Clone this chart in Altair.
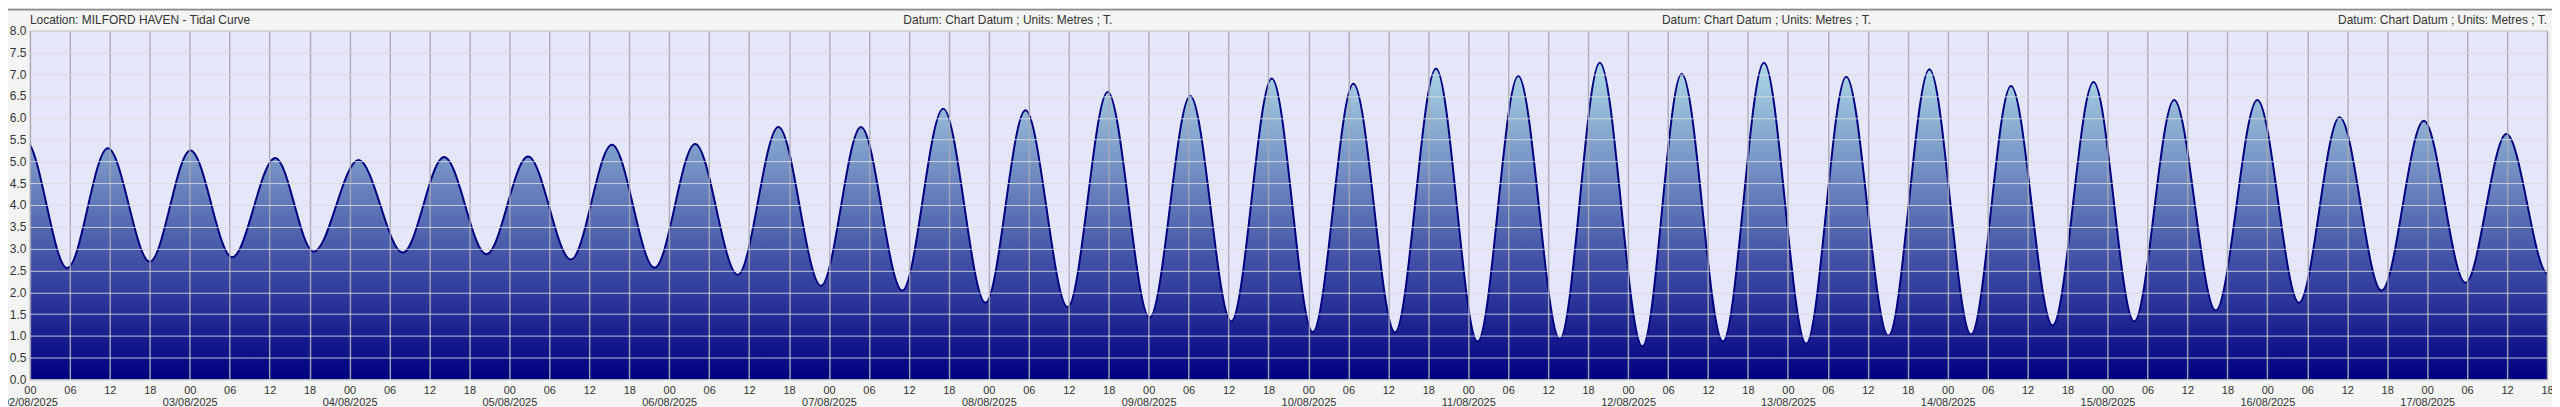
import altair as alt
import pandas as pd

# High / low water times (UTC) and heights (m)
# (first and last turning points lie just outside the visible window)
times = [
    "2025-08-01T17:12:00Z",
    "2025-08-01T23:24:00Z", "2025-08-02T05:36:00Z", "2025-08-02T11:42:00Z", "2025-08-02T18:00:00Z",
    "2025-08-03T00:06:00Z", "2025-08-03T06:21:00Z", "2025-08-03T12:51:00Z", "2025-08-03T18:36:00Z",
    "2025-08-04T01:21:00Z", "2025-08-04T08:00:00Z", "2025-08-04T14:12:00Z", "2025-08-04T20:33:00Z",
    "2025-08-05T02:48:00Z", "2025-08-05T09:15:00Z", "2025-08-05T15:24:00Z", "2025-08-05T21:48:00Z",
    "2025-08-06T03:54:00Z", "2025-08-06T10:18:00Z", "2025-08-06T16:24:00Z", "2025-08-06T22:48:00Z",
    "2025-08-07T04:48:00Z", "2025-08-07T11:00:00Z", "2025-08-07T17:09:00Z", "2025-08-07T23:30:00Z",
    "2025-08-08T05:30:00Z", "2025-08-08T11:51:00Z", "2025-08-08T17:51:00Z", "2025-08-09T00:09:00Z",
    "2025-08-09T06:15:00Z", "2025-08-09T12:24:00Z", "2025-08-09T18:30:00Z", "2025-08-10T00:39:00Z",
    "2025-08-10T06:45:00Z", "2025-08-10T13:00:00Z", "2025-08-10T19:09:00Z", "2025-08-11T01:24:00Z",
    "2025-08-11T07:30:00Z", "2025-08-11T13:45:00Z", "2025-08-11T19:45:00Z", "2025-08-12T02:09:00Z",
    "2025-08-12T08:03:00Z", "2025-08-12T14:15:00Z", "2025-08-12T20:24:00Z", "2025-08-13T02:45:00Z",
    "2025-08-13T08:45:00Z", "2025-08-13T15:06:00Z", "2025-08-13T21:15:00Z", "2025-08-14T03:30:00Z",
    "2025-08-14T09:30:00Z", "2025-08-14T15:45:00Z", "2025-08-14T21:54:00Z", "2025-08-15T04:00:00Z",
    "2025-08-15T10:00:00Z", "2025-08-15T16:15:00Z", "2025-08-15T22:30:00Z", "2025-08-16T04:45:00Z",
    "2025-08-16T10:51:00Z", "2025-08-16T17:09:00Z", "2025-08-16T23:30:00Z", "2025-08-17T05:45:00Z",
    "2025-08-17T11:54:00Z", "2025-08-17T18:09:00Z",
    "2025-08-18T00:20:00Z",
]
heights = [
    2.55,
    5.46, 2.55, 5.30, 2.70,
    5.25, 2.80, 5.08, 2.93,
    5.03, 2.91, 5.10, 2.87,
    5.11, 2.75, 5.38, 2.56,
    5.40, 2.40, 5.79, 2.15,
    5.79, 2.04, 6.21, 1.76,
    6.17, 1.66, 6.59, 1.42,
    6.50, 1.33, 6.90, 1.09,
    6.78, 1.08, 7.13, 0.87,
    6.96, 0.93, 7.26, 0.76,
    7.01, 0.87, 7.26, 0.82,
    6.94, 1.00, 7.11, 1.03,
    6.73, 1.24, 6.82, 1.33,
    6.41, 1.58, 6.41, 1.76,
    6.01, 2.04, 5.93, 2.22,
    5.63, 2.42,
    5.40,
]

x_start = "2025-08-02T00:00:00Z"
x_end = "2025-08-17T18:00:00Z"
y_ticks = [0.0, 0.5, 1.0, 1.5, 2.0, 2.5, 3.0, 3.5, 4.0, 4.5, 5.0, 5.5, 6.0, 6.5, 7.0, 7.5, 8.0]
header_texts = [
    "Location: MILFORD HAVEN - Tidal Curve",
    "Datum: Chart Datum ; Units: Metres ; T.",
    "Datum: Chart Datum ; Units: Metres ; T.",
    "Datum: Chart Datum ; Units: Metres ; T.",
]

W, H = 2525, 350
FONT = "Liberation Sans"


def ms(s):
    return int(pd.Timestamp(s).value // 10**6)


df = pd.DataFrame({"time": [ms(t) for t in times], "height": heights})
t0, t1 = ms(x_start), ms(x_end)
x_tick_values = list(range(t0, t1 + 1, 6 * 3600 * 1000))

x_axis = alt.Axis(
    values=x_tick_values,
    labelExpr="utcFormat(datum.value, '%H') == '00' ? [utcFormat(datum.value, '%H'), utcFormat(datum.value, '%d/%m/%Y')] : utcFormat(datum.value, '%H')",
    labelFlush=False,
    labelOverlap=False,
    labelFontSize=11,
    labelFont=FONT,
    labelColor="#333333",
    labelPadding=5,
    labelLineHeight=12,
    ticks=False,
    domain=False,
    gridColor="#a9a9b4",
    gridWidth=1.5,
    gridOpacity=0.9,
    zindex=1,
)
y_axis = alt.Axis(
    values=y_ticks,
    format=".1f",
    labelFontSize=12,
    labelFont=FONT,
    labelColor="#333333",
    labelPadding=4,
    labelOverlap=False,
    labelSeparation=0,
    labelFlush=False,
    labelLineHeight=12,
    ticks=False,
    domain=False,
    gridColor="#dcdce0",
    gridOpacity=0.85,
    gridWidth=1,
    zindex=1,
)

x_enc = alt.X("time:T", title=None, scale=alt.Scale(type="utc", domain=[t0, t1], nice=False), axis=x_axis)
y_enc = alt.Y("height:Q", title=None, scale=alt.Scale(domain=[0, 8], nice=False, zero=True), axis=y_axis)

gradient = alt.Gradient(
    gradient="linear",
    stops=[
        alt.GradientStop(color="#add8e6", offset=0),
        alt.GradientStop(color="#000080", offset=1),
    ],
    x1=0, x2=0, y1=0, y2=1,
)

base = alt.Chart(df)
area = base.mark_area(interpolate="monotone", clip=True, color=gradient).encode(x=x_enc, y=y_enc)
line = base.mark_line(interpolate="monotone", clip=True, color="#000080", strokeWidth=2).encode(
    x=x_enc, y=y_enc
)

one = alt.Chart(pd.DataFrame({"k": [0]}))
top_rule = one.mark_rule(color="#8a8a8a", strokeWidth=2).encode(
    x=alt.value(-22), x2=alt.value(2530), y=alt.value(-21)
)

hdf = pd.DataFrame({"label": header_texts})
header_left = alt.Chart(hdf.iloc[[0]]).mark_text(
    align="left", baseline="middle", fontSize=12, font=FONT, color="#333333"
).encode(x=alt.value(0), y=alt.value(-11), text="label:N")
header_mid1 = alt.Chart(hdf.iloc[[1]]).mark_text(
    align="center", baseline="middle", fontSize=12, font=FONT, color="#333333"
).encode(x=alt.value(981), y=alt.value(-11), text="label:N")
header_mid2 = alt.Chart(hdf.iloc[[2]]).mark_text(
    align="center", baseline="middle", fontSize=12, font=FONT, color="#333333"
).encode(x=alt.value(1742), y=alt.value(-11), text="label:N")
header_right = alt.Chart(hdf.iloc[[3]]).mark_text(
    align="right", baseline="middle", fontSize=12, font=FONT, color="#333333"
).encode(x=alt.value(2525), y=alt.value(-11), text="label:N")

chart = (
    alt.layer(area, line, top_rule, header_left, header_mid1, header_mid2, header_right)
    .properties(
        width=W,
        height=H,
        autosize=alt.AutoSizeParams(type="none"),
        padding={"left": 22, "top": 22, "right": 5, "bottom": 27},
        background="#f4f4f4",
    )
    .configure_view(fill="#e6e6fa", stroke="#b4b4b4", strokeWidth=1)
    .configure_axisY(labelOverlap=False)
    .configure_axis(labelOverlap=False)
)

chart.save("out.html", embed_options={"renderer": "svg", "actions": False})
